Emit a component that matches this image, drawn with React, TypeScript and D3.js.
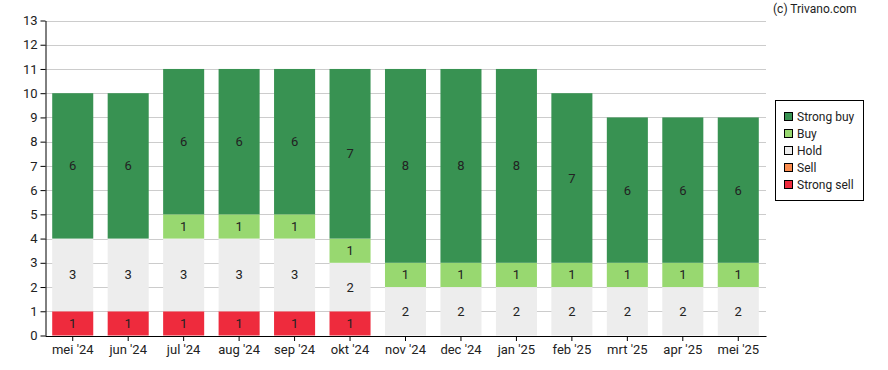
import React, { useEffect, useRef } from "react";
import * as d3 from "d3";

const months = ["mei '24", "jun '24", "jul '24", "aug '24", "sep '24", "okt '24", "nov '24", "dec '24", "jan '25", "feb '25", "mrt '25", "apr '25", "mei '25"];
const strongSell = [1, 1, 1, 1, 1, 1, 0, 0, 0, 0, 0, 0, 0];
const sell = [0, 0, 0, 0, 0, 0, 0, 0, 0, 0, 0, 0, 0];
const hold = [3, 3, 3, 3, 3, 2, 2, 2, 2, 2, 2, 2, 2];
const buy = [0, 0, 1, 1, 1, 1, 1, 1, 1, 1, 1, 1, 1];
const strongBuy = [6, 6, 6, 6, 6, 7, 8, 8, 8, 7, 6, 6, 6];
const yTicks = [0, 1, 2, 3, 4, 5, 6, 7, 8, 9, 10, 11, 12, 13];

const seriesNames = ["Strong sell", "Sell", "Hold", "Buy", "Strong buy"];
const seriesColors = ["#ee2b3d", "#fa8c4e", "#ededed", "#98d870", "#389252"];

export default function App() {
    const svgRef = useRef<SVGSVGElement>(null);

    useEffect(() => {
        const svg = d3.select(svgRef.current);
        svg.selectAll("*").remove();

        const width = 888;
        const height = 370;
        const margin = { top: 20.5, right: 122, bottom: 34.5, left: 45 };
        const font = "Roboto, sans-serif";

        svg.attr("width", width).attr("height", height);

        // table for the stack
        const rows = months.map((m, i) => ({
            month: m,
            "Strong sell": strongSell[i],
            Sell: sell[i],
            Hold: hold[i],
            Buy: buy[i],
            "Strong buy": strongBuy[i],
        }));
        const stacked = d3.stack<any>().keys(seriesNames)(rows);

        const x = d3.scaleBand()
            .domain(months)
            .range([margin.left, width - margin.right])
            .paddingInner(0.26)
            .paddingOuter(0.13);

        const y = d3.scaleLinear()
            .domain([0, 13])
            .range([height - margin.bottom, margin.top]);

        // grid lines
        svg.append("g")
            .selectAll("line")
            .data(yTicks.filter((t) => t > 0))
            .join("line")
            .attr("x1", margin.left)
            .attr("x2", width - margin.right)
            .attr("y1", (d) => Math.round(y(d)) + 0.5)
            .attr("y2", (d) => Math.round(y(d)) + 0.5)
            .attr("stroke", "#cccccc");

        // bars
        const layers = svg.append("g")
            .selectAll("g")
            .data(stacked)
            .join("g")
            .attr("fill", (d, i) => seriesColors[i]);

        layers.selectAll("rect")
            .data((d) => d)
            .join("rect")
            .attr("x", (d) => x(d.data.month)!)
            .attr("width", x.bandwidth())
            .attr("y", (d) => y(d[1]))
            .attr("height", (d) => y(d[0]) - y(d[1]));

        // value labels
        layers.selectAll("text")
            .data((d) => d.filter((p) => p[1] - p[0] > 0))
            .join("text")
            .attr("x", (d) => x(d.data.month)! + x.bandwidth() / 2)
            .attr("y", (d) => y((d[0] + d[1]) / 2))
            .attr("dy", "0.35em")
            .attr("text-anchor", "middle")
            .attr("fill", "#222")
            .style("font", `13px ${font}`)
            .text((d) => d[1] - d[0]);

        // y axis
        const yAxis = svg.append("g")
            .attr("transform", `translate(${margin.left + 0.5},0)`)
            .call(d3.axisLeft(y).tickValues(yTicks).tickSize(5).tickPadding(3).tickSizeOuter(0));
        yAxis.selectAll("text").style("font", `13px ${font}`).attr("fill", "#222");
        yAxis.select(".domain").attr("stroke", "#000");

        // x axis
        const xAxis = svg.append("g")
            .attr("transform", `translate(0,${height - margin.bottom + 0.5})`)
            .call(d3.axisBottom(x).tickSize(5).tickPadding(4).tickSizeOuter(0));
        xAxis.selectAll("text").style("font", `13px ${font}`).attr("fill", "#222");
        xAxis.select(".domain").attr("stroke", "#000");

        // copyright
        svg.append("text")
            .attr("x", 773)
            .attr("y", 13)
            .attr("fill", "#222")
            .style("font", `12px ${font}`)
            .text("(c) Trivano.com");

        // legend
        const legend = svg.append("g");
        legend.append("rect")
            .attr("x", 775.5)
            .attr("y", 100.5)
            .attr("width", 88)
            .attr("height", 100)
            .attr("fill", "#fff")
            .attr("stroke", "#000");

        const order = [4, 3, 2, 1, 0];
        order.forEach((si, k) => {
            const cy = 117 + k * 17;
            legend.append("rect")
                .attr("x", 784.5)
                .attr("y", cy - 4.5)
                .attr("width", 8)
                .attr("height", 8)
                .attr("fill", seriesColors[si])
                .attr("stroke", "#000");
            legend.append("text")
                .attr("x", 797)
                .attr("y", cy)
                .attr("dy", "0.35em")
                .attr("fill", "#222")
                .style("font", `12px ${font}`)
                .text(seriesNames[si]);
        });
    }, []);

    return (
        <div style={{ position: "absolute", left: 0, top: 0 }}>
            <svg ref={svgRef}></svg>
        </div>
    );
}
